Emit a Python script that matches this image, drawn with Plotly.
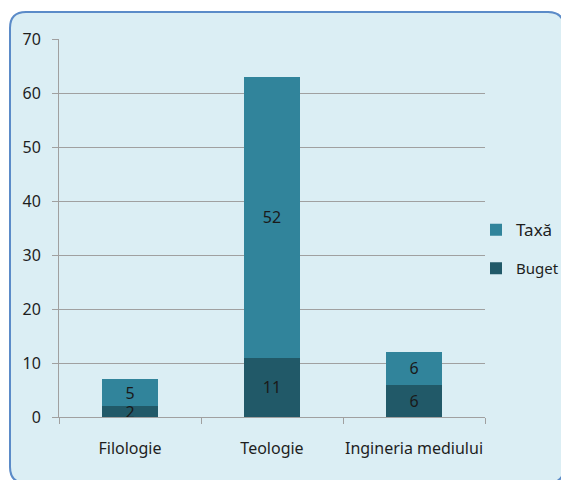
import plotly.graph_objects as go

# ---------------------------------------------------------------------------
# Data
# ---------------------------------------------------------------------------
categories = ["Filologie", "Teologie", "Ingineria mediului"]
buget = [2, 11, 6]
taxa = [5, 52, 6]
y_ticks = [0, 10, 20, 30, 40, 50, 60, 70]

_CLR_TAXA = "#31849B"
_CLR_BUGET = "#215968"
_BOX_FILL = "#DBEEF4"
_BOX_LINE = "#5B8BC8"
_FONT = "Noto Sans"

# plot area in pixels: x 59..485, y 39..417 (of 561x480)
W, H = 561, 480
L, R, T, B = 59, 76, 39, 63
pw, ph = W - L - R, H - T - B


def px_x(p):
    return (p - L) / pw


def px_y(p):
    return 1 - (p - T) / ph


_label_font = dict(color="#1a1a1a", size=16, family=_FONT)

fig = go.Figure()
fig.add_trace(go.Bar(
    x=categories, y=buget, name="Buget",
    marker=dict(color=_CLR_BUGET, line=dict(width=0)),
    text=buget, textposition="inside", insidetextanchor="middle",
    constraintext="none", textangle=0, textfont=_label_font,
    legendrank=2, legendgroup="b",
))
fig.add_trace(go.Bar(
    x=categories, y=taxa, name="<span style='font-size:17px'>Taxă</span>",
    marker=dict(color=_CLR_TAXA, line=dict(width=0)),
    text=taxa, textposition="inside", insidetextanchor="middle",
    constraintext="none", textangle=0, textfont=_label_font,
    legendrank=1, legendgroup="t",
))

# rounded background box
x0, x1 = px_x(10), px_x(564)
y0, y1 = px_y(483), px_y(12)
rx, ry = 16 / pw, 16 / ph
path = (
    f"M {x0 + rx},{y1} L {x1 - rx},{y1} Q {x1},{y1} {x1},{y1 - ry} "
    f"L {x1},{y0 + ry} Q {x1},{y0} {x1 - rx},{y0} "
    f"L {x0 + rx},{y0} Q {x0},{y0} {x0},{y0 + ry} "
    f"L {x0},{y1 - ry} Q {x0},{y1} {x0 + rx},{y1} Z"
)
fig.add_shape(type="path", path=path, xref="paper", yref="paper",
              fillcolor=_BOX_FILL, line=dict(color=_BOX_LINE, width=2),
              layer="below")

fig.update_layout(
    width=W, height=H,
    barmode="stack", bargap=0.6,
    paper_bgcolor="white", plot_bgcolor="rgba(0,0,0,0)",
    margin=dict(l=L, r=R, t=T, b=B, autoexpand=False),
    font=dict(family=_FONT, size=15, color="#1e1e1e"),
    showlegend=True,
    legend=dict(
        x=px_x(476), y=px_y(249), xanchor="left", yanchor="middle",
        traceorder="grouped", tracegroupgap=16, itemwidth=30,
        bgcolor="rgba(0,0,0,0)", font=dict(size=15),
    ),
)
fig.update_xaxes(
    showgrid=False, showline=True, linecolor="#A0A0A0", linewidth=1,
    ticks="outside", tickson="boundaries", ticklen=6, tickcolor="#A0A0A0",
    tickfont=dict(size=16), tickangle=0, ticklabelstandoff=17,
)
fig.update_yaxes(
    range=[0, 70], tickvals=y_ticks, showgrid=True, gridcolor="#A0A0A0",
    gridwidth=1, showline=True, linecolor="#A0A0A0", linewidth=1,
    ticks="outside", ticklen=6, tickcolor="#A0A0A0", zeroline=False,
    tickfont=dict(size=16), ticklabelstandoff=8,
)

fig.write_html("out.html", config={"displayModeBar": False},
               post_script="document.body.style.margin='0';")
